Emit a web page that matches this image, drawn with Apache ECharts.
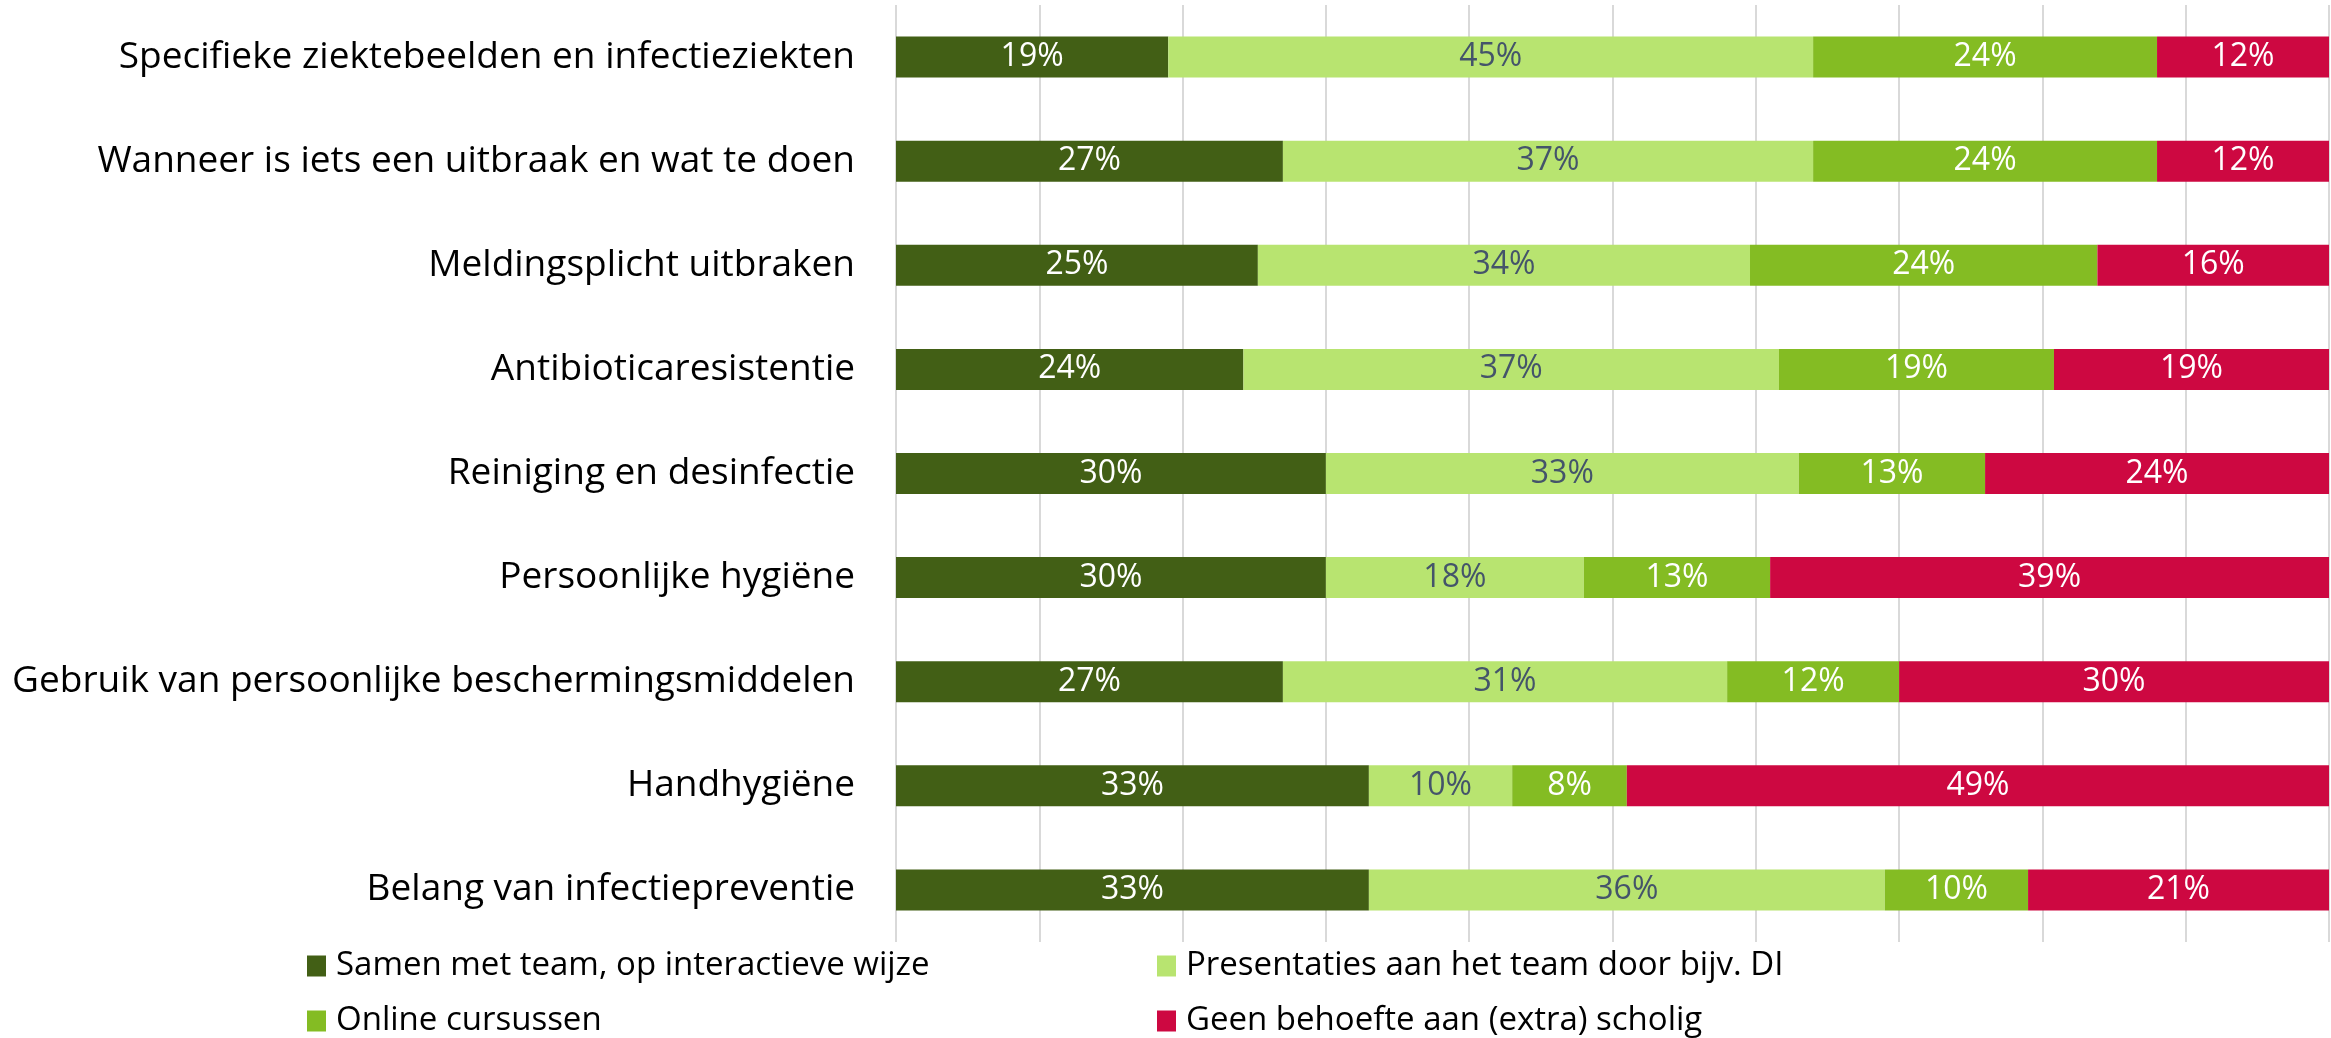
<!DOCTYPE html>
<html>
<head>
<meta charset="utf-8">
<script src="https://cdn.jsdelivr.net/npm/echarts@6/dist/echarts.min.js"></script>
<style>
  html, body { margin: 0; padding: 0; background: #fff; }
  #chart { width: 2331px; height: 1038px; }
</style>
</head>
<body>
<div id="chart"></div>
<script>
// categorieen, van boven naar beneden
var categories = [
  "Specifieke ziektebeelden en infectieziekten",
  "Wanneer is iets een uitbraak en wat te doen",
  "Meldingsplicht uitbraken",
  "Antibioticaresistentie",
  "Reiniging en desinfectie",
  "Persoonlijke hygiëne",
  "Gebruik van persoonlijke beschermingsmiddelen",
  "Handhygiëne",
  "Belang van infectiepreventie"
];

var seriesNames = [
  "Samen met team, op interactieve wijze",
  "Presentaties aan het team door bijv. DI",
  "Online cursussen",
  "Geen behoefte aan (extra) scholig"
];

// percentages zoals in de labels
var samen = [19, 27, 25, 24, 30, 30, 27, 33, 33];
var presentaties = [45, 37, 34, 37, 33, 18, 31, 10, 36];
var online = [24, 24, 24, 19, 13, 13, 12, 8, 10];
var geen = [12, 12, 16, 19, 24, 39, 30, 49, 21];

var colors = ["#425F15", "#B8E470", "#84BC23", "#CD0841"];
var labelColors = ["#ffffff", "#44546A", "#ffffff", "#ffffff"];

var FONT = "Open Sans";

function createChart() {
  var chartDom = document.getElementById("chart");
  var myChart = echarts.init(chartDom);

  var raw = [samen, presentaties, online, geen];
  // 100% gestapeld: elke rij delen door zijn som
  var sums = categories.map(function (c, i) {
    return raw.reduce(function (s, arr) { return s + arr[i]; }, 0);
  });

  var series = raw.map(function (arr, k) {
    return {
      name: seriesNames[k],
      type: "bar",
      stack: "total",
      barWidth: 41,
      itemStyle: { color: colors[k] },
      label: {
        show: true,
        position: "inside",
        fontFamily: FONT,
        fontSize: 32,
        color: labelColors[k],
        formatter: function (p) {
          return raw[k][p.dataIndex] + "%";
        }
      },
      data: arr.map(function (v, i) { return (v / sums[i]) * 100; })
    };
  });

  var legendPos = [
    { left: 307, top: 949 },
    { left: 1157, top: 949 },
    { left: 307, top: 1004 },
    { left: 1157, top: 1004 }
  ];

  var legends = seriesNames.map(function (name, k) {
    return {
      data: [name],
      left: legendPos[k].left,
      top: legendPos[k].top,
      padding: 0,
      icon: "rect",
      itemWidth: 19,
      itemHeight: 21,
      textStyle: {
        fontFamily: FONT,
        fontSize: 33,
        color: "#000",
        lineHeight: 34,
        padding: [0, 0, 0, 5]
      }
    };
  });

  var option = {
    animation: false,
    grid: { left: 896, right: 2, top: 5, height: 937, containLabel: false },
    legend: legends,
    xAxis: {
      type: "value",
      min: 0,
      max: 100,
      interval: 10,
      axisLabel: { show: false },
      axisLine: { show: false },
      axisTick: { show: false },
      splitLine: { lineStyle: { color: "#D9D9D9", width: 2 } }
    },
    yAxis: {
      type: "category",
      inverse: true,
      data: categories,
      axisLine: { show: false },
      axisTick: { show: false },
      axisLabel: {
        fontFamily: FONT,
        fontSize: 37,
        color: "#000",
        margin: 41
      }
    },
    series: series
  };

  option && myChart.setOption(option);
}

createChart();
</script>
</body>
</html>
